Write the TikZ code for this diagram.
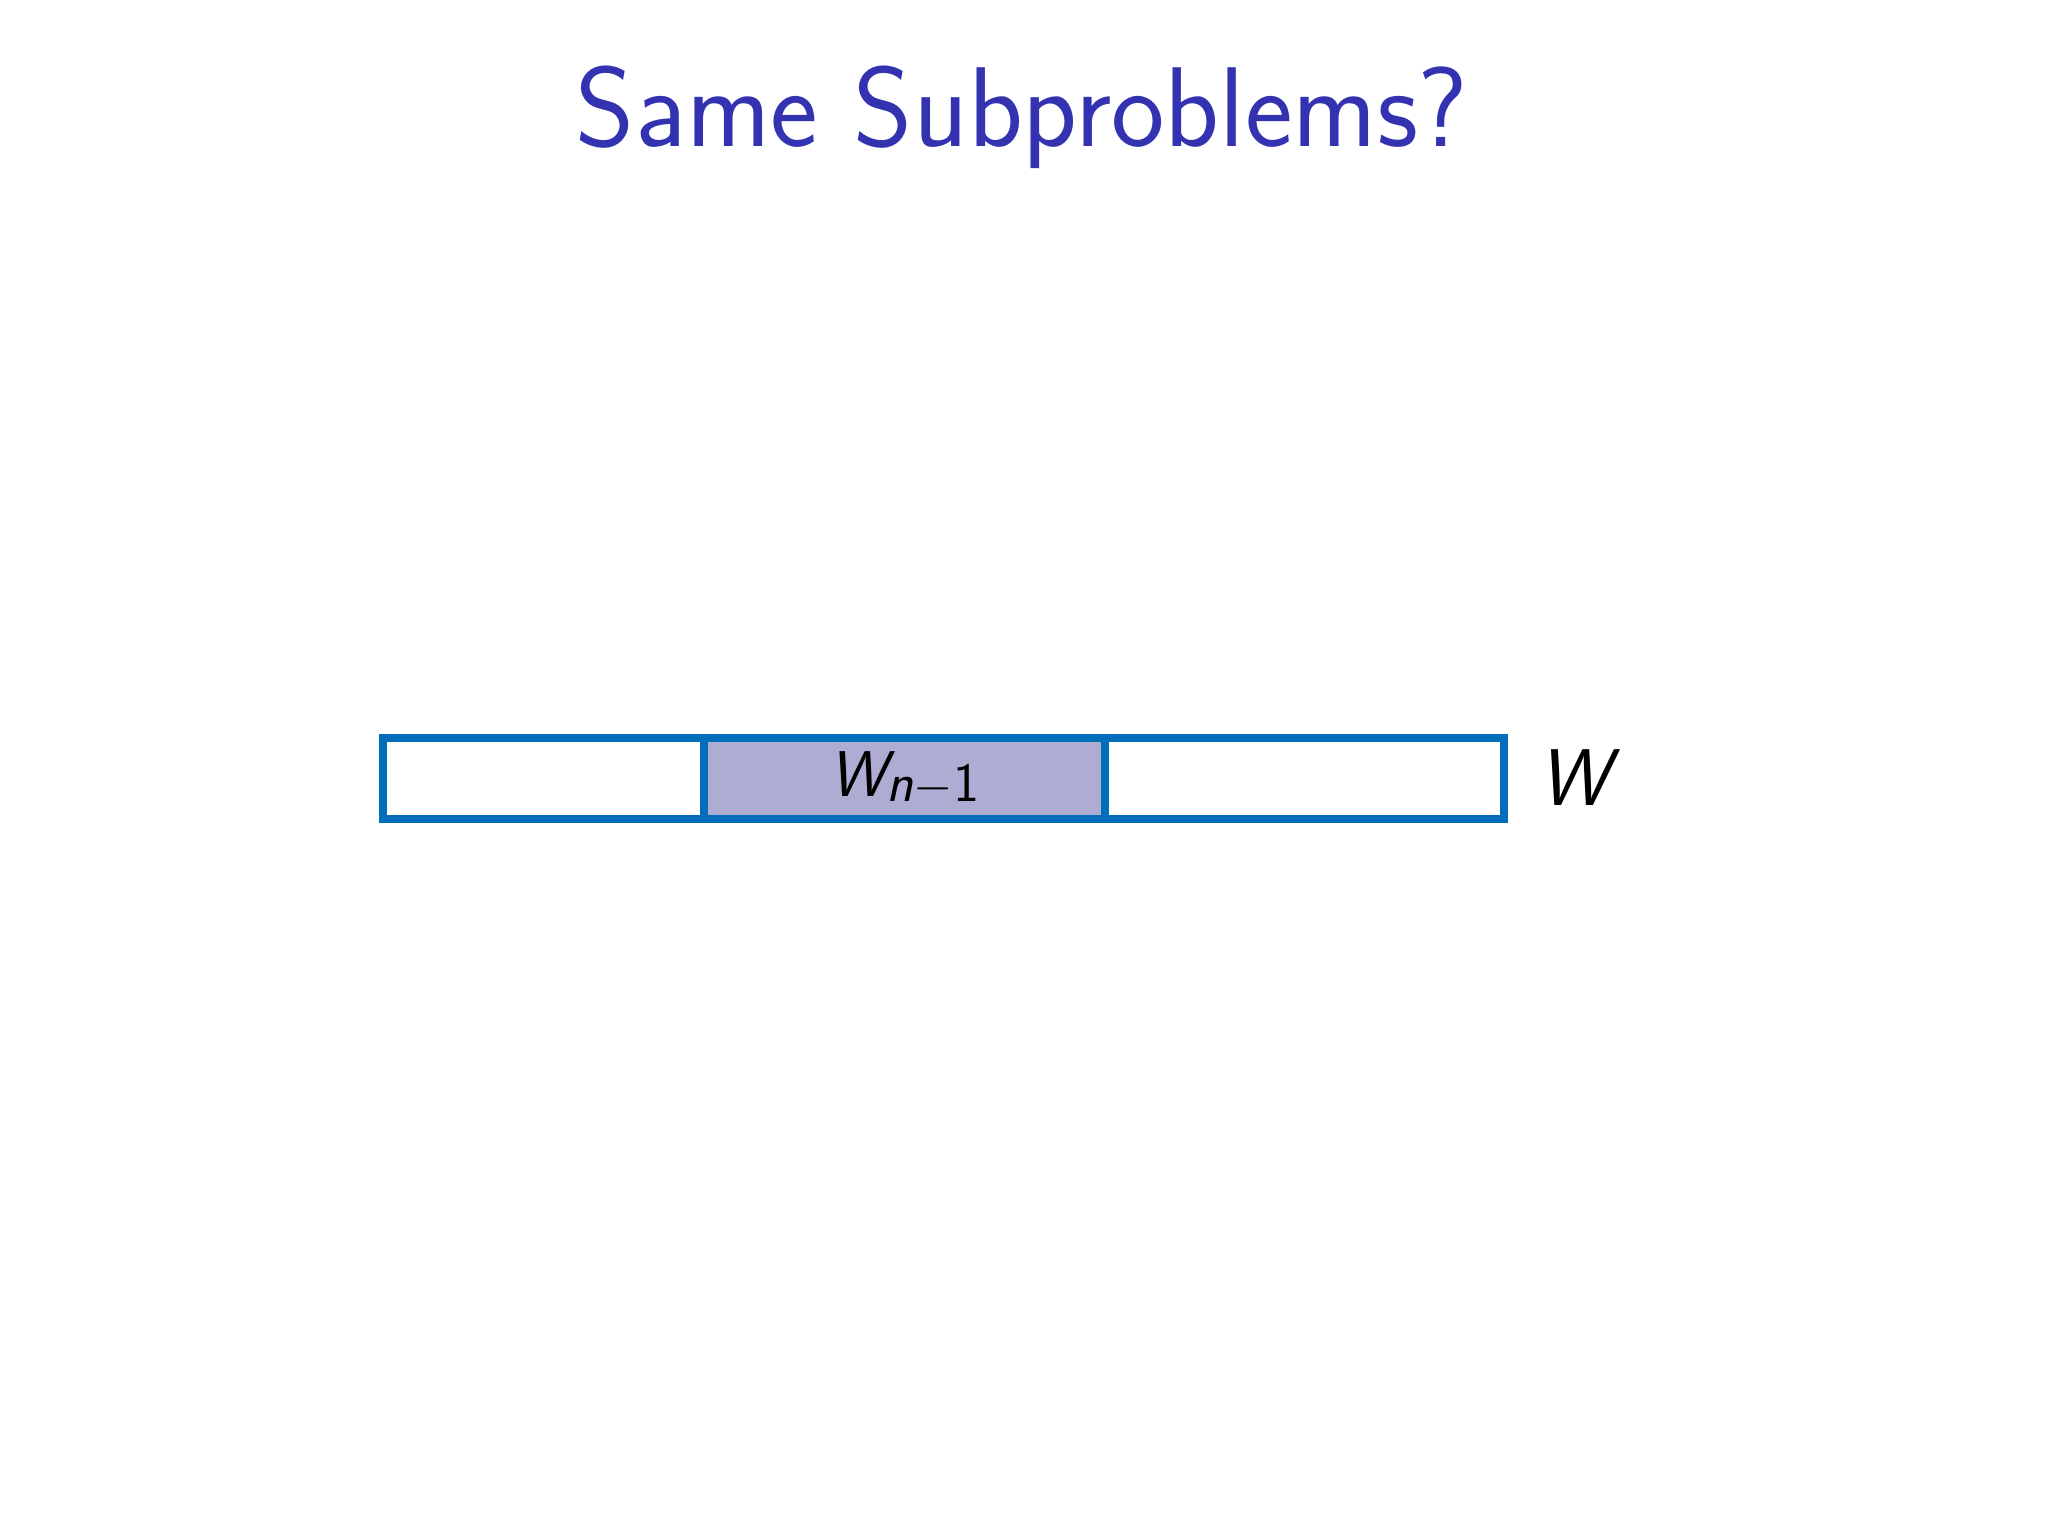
\documentclass[tikz,border=0pt]{standalone}
\usepackage{fontspec}
\newfontfamily\titlefont{lmsans17-regular.otf}
\newfontfamily\obliquefont{lmsans17-oblique.otf}
\newfontfamily\sansreg{lmsans17-regular.otf}
\definecolor{titleblue}{RGB}{51,51,178}
\definecolor{barblue}{RGB}{0,110,184}
\definecolor{cellfill}{RGB}{175,172,211}
\begin{document}
\begin{tikzpicture}[
  cell/.style={draw=barblue, line width=2.3pt, rectangle, inner sep=0pt, outer sep=0pt, minimum height=0.81cm},
  lbl/.style={inner sep=0pt}
]
\useasboundingbox[fill=white] (0,0) rectangle (20.48,15.36);
\node[lbl, anchor=base, text=titleblue, font=\titlefont\fontsize{32.3}{38}\selectfont] (title) at (10.22,13.89) {Same Subproblems?};
\node[cell, minimum width=3.21cm] (c1) at (5.435,7.575) {};
\node[cell, fill=cellfill, minimum width=4.01cm] (c2) at (9.045,7.575) {};
\node[cell, minimum width=3.99cm] (c3) at (13.045,7.575) {};
\node[lbl, anchor=base, font=\fontsize{18.4}{22}\selectfont] (wn) at (9.045,7.39) {{\obliquefont W}\raisebox{-0.05cm}{\fontsize{15.8}{18}\selectfont{\obliquefont n}$-${\sansreg 1}}};
\node[lbl, anchor=base, font=\obliquefont\fontsize{22.9}{27}\selectfont] (w) at (15.74,7.30) {W};
\end{tikzpicture}
\end{document}
